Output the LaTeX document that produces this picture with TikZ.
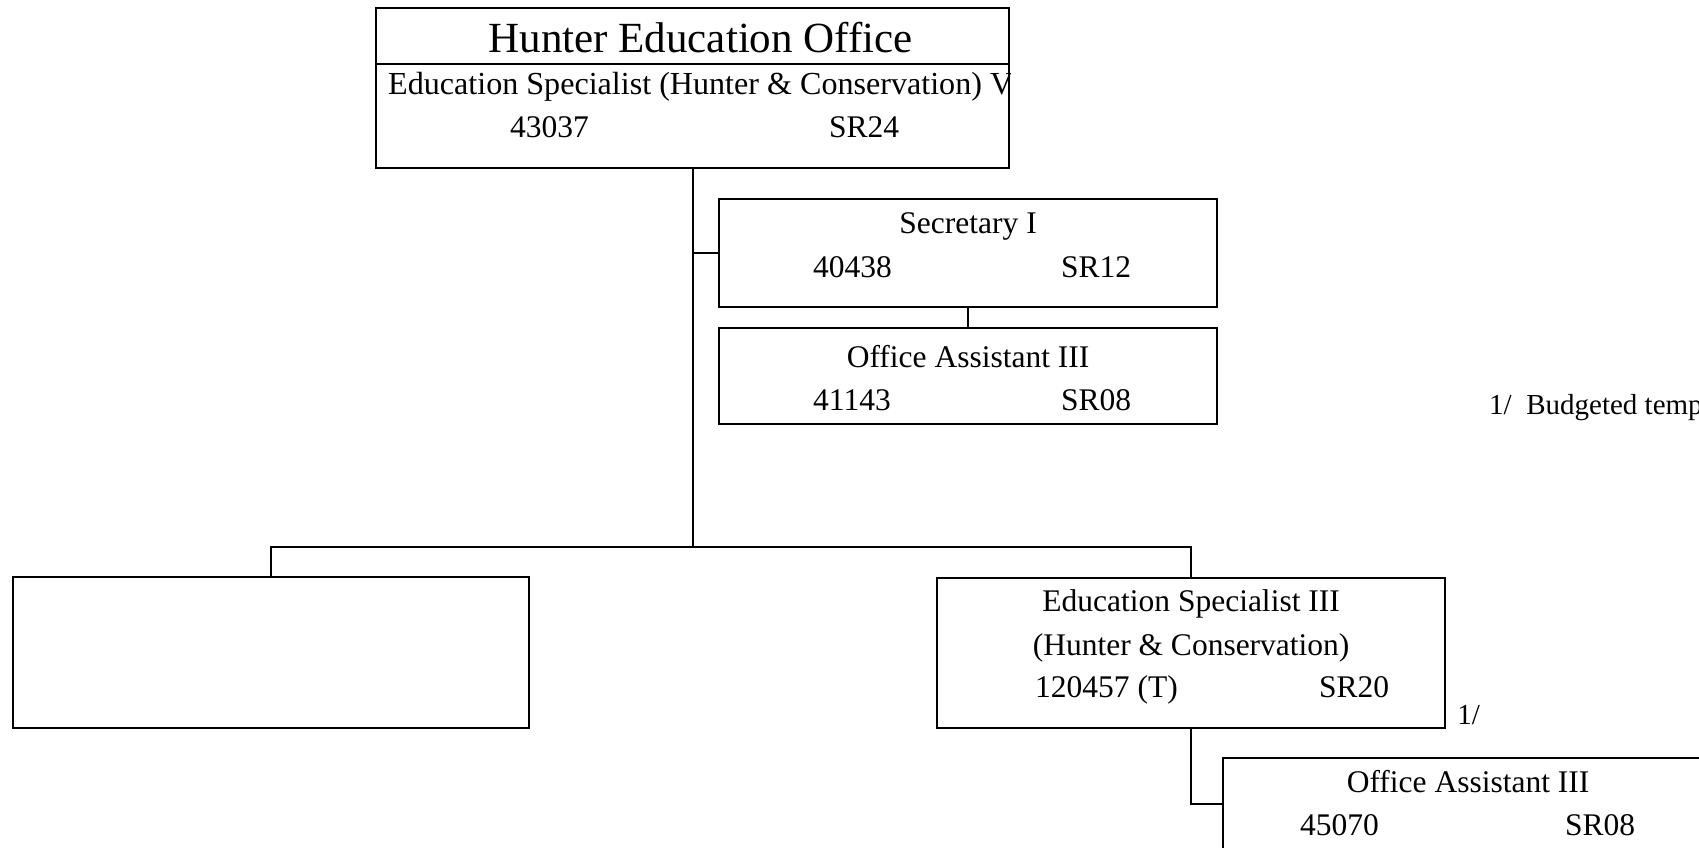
\documentclass[tikz,border=0pt]{standalone}
\usepackage{fontspec}
\setmainfont{Liberation Serif}
\usepackage{tikz}
\usetikzlibrary{positioning,calc}

\newcommand{\charttitle}{\fontsize{43}{50}\selectfont}
\newcommand{\chartbody}{\fontsize{31.5}{38}\selectfont}
\newcommand{\chartwide}{\fontsize{32.1}{38}\selectfont}
\newcommand{\chartnote}{\fontsize{29}{34}\selectfont}

\tikzset{
  post/.style={draw, line width=2.2pt, rectangle, anchor=north west, inner sep=0pt},
  posname/.style={anchor=base, inner sep=0pt, font=\chartbody},
  posnum/.style={anchor=base west, inner sep=0pt, font=\chartbody},
  posnote/.style={anchor=base west, inner sep=0pt, font=\chartnote},
  link/.style={line width=2.2pt},
}

\begin{document}
\begin{tikzpicture}[x=1pt, y=-1pt]
    \useasboundingbox (0,0) rectangle (1699,848);
    \clip (0,0) rectangle (1699,848);

    % Define nodes
    \node[post, minimum width=633pt, minimum height=160pt] (HEO) at (375,7) {};
    \draw[link] ($(HEO.north west)+(0,57)$) -- ($(HEO.north east)+(0,57)$);
    \node[posname, font=\charttitle] (HEOt) at ($(HEO.north)+(8,46)$) {Hunter Education Office};
    \begin{scope}
        \clip (HEO.north west) rectangle (HEO.south east);
        \node[posnum, font=\chartwide] (HEOj) at ($(HEO.north west)+(13,88)$) {Education Specialist (Hunter \& Conservation) V};
    \end{scope}
    \node[posnum] (HEOn) at ($(HEO.north west)+(135,131)$) {43037};
    \node[posnum] (HEOg) at ($(HEO.north west)+(454,131)$) {SR24};

    \node[post, minimum width=498pt, minimum height=108pt] (SEC) at (718,198) {};
    \node[posname] (SECt) at ($(SEC.north)+(0,35)$) {Secretary I};
    \node[posnum] (SECn) at ($(SEC.north west)+(95,79)$) {40438};
    \node[posnum] (SECg) at ($(SEC.north west)+(343,79)$) {SR12};

    \node[post, minimum width=498pt, minimum height=96pt] (OA1) at (718,327) {};
    \node[posname] (OA1t) at ($(OA1.north)+(0,40)$) {Office Assistant III};
    \node[posnum] (OA1n) at ($(OA1.north west)+(95,83)$) {41143};
    \node[posnum] (OA1g) at ($(OA1.north west)+(343,83)$) {SR08};

    \node[posnote] (BUD) at (1489,414) {1/\ \ Budgeted temp};

    \node[post, minimum width=516pt, minimum height=151pt] (VAC) at (12,576) {};

    \node[post, minimum width=508pt, minimum height=150pt] (ES3) at (936,577) {};
    \node[posname] (ES3t) at ($(ES3.north)+(0,34)$) {Education Specialist III};
    \node[posname] (ES3s) at ($(ES3.north)+(0,78)$) {(Hunter \& Conservation)};
    \node[posnum] (ES3n) at ($(ES3.north west)+(99,120)$) {120457 (T)};
    \node[posnum] (ES3g) at ($(ES3.north west)+(383,120)$) {SR20};
    \node[posnote] (ES3f) at ($(ES3.south east)+(11,-5)$) {1/};

    \node[post, minimum width=490pt, minimum height=91pt] (OA2) at (1222,757) {};
    \node[posname] (OA2t) at ($(OA2.north)+(0,35)$) {Office Assistant III};
    \node[posnum] (OA2n) at ($(OA2.north west)+(78,78)$) {45070};
    \node[posnum] (OA2g) at ($(OA2.north west)+(343,78)$) {SR08};

    \coordinate (barY) at (0,547);
    \coordinate (fork) at (HEO.south |- barY);

    % Draw lines
    \draw[link] (HEO.south) -- (fork);
    \draw[link] (SEC.west) -- (SEC.west -| fork);
    \draw[link] (SEC.south) -- (OA1.north);
    \draw[link] (VAC.north) |- (fork) -| (ES3.north);
    \draw[link] (ES3.south) |- (OA2.west);
\end{tikzpicture}
\end{document}
